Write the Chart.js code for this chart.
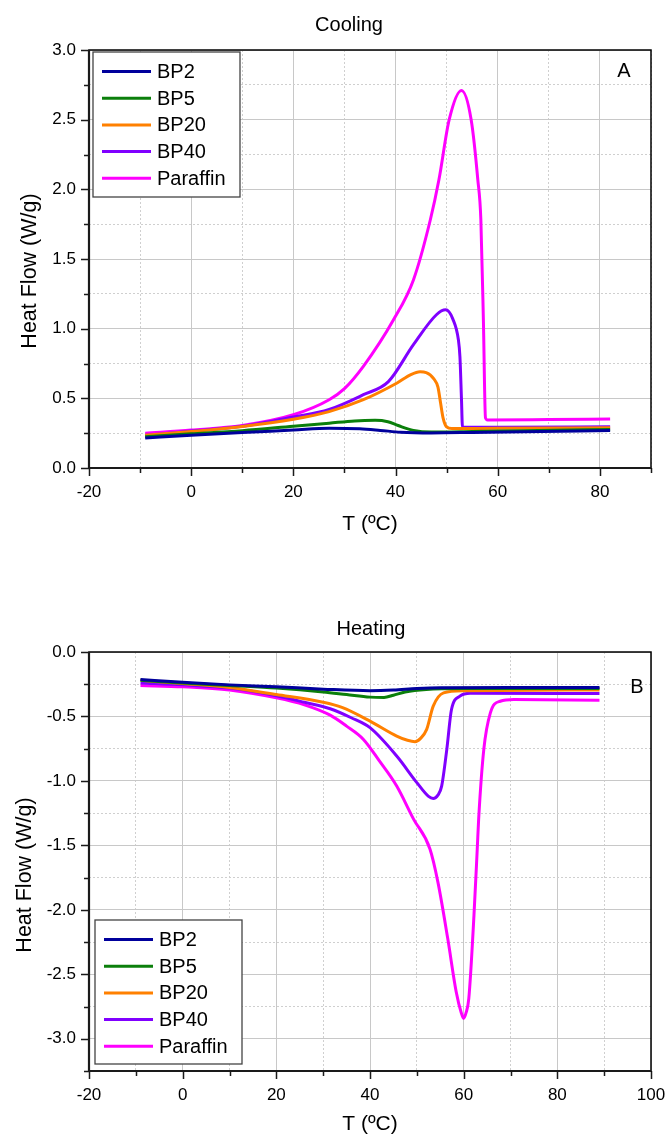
<!DOCTYPE html>
<html>
<head>
<meta charset="utf-8">
<title>DSC</title>
<script src="https://cdn.jsdelivr.net/npm/chart.js@4.4.1/dist/chart.umd.min.js"></script>
<style>
  body { margin: 0; background: #fff; }
  canvas { display: block; }
</style>
</head>
<body>
<canvas id="coolChart" width="667" height="568"></canvas>
<canvas id="heatChart" width="667" height="569"></canvas>
<script>
// 시료 이름과 선 색상
const seriesNames = ['BP2', 'BP5', 'BP20', 'BP40', 'Paraffin'];
const seriesColors = ['#00009c', '#0b7f0b', '#ff8000', '#8000ff', '#ff00ff'];

// 냉각 곡선 [T(ºC), Heat Flow(W/g)]
const coolBP2 = [[-9, 0.215], [0, 0.235], [10, 0.254], [20, 0.272], [27, 0.285], [33, 0.281], [37, 0.27], [41, 0.257], [47, 0.252], [55, 0.255], [65, 0.26], [82, 0.27]];
const coolBP5 = [[-9, 0.225], [0, 0.245], [10, 0.268], [20, 0.3], [27, 0.322], [32, 0.338], [36, 0.342], [38.5, 0.332], [40.5, 0.305], [43.5, 0.27], [47, 0.258], [55, 0.262], [65, 0.268], [82, 0.277]];
const coolBP20 = [[-9, 0.235], [0, 0.262], [10, 0.298], [20, 0.35], [27, 0.405], [33.7, 0.49], [40.3, 0.61], [43, 0.67], [44.8, 0.69], [46, 0.685], [47.5, 0.64], [48.3, 0.58], [48.8, 0.47], [49.3, 0.36], [50, 0.295], [51, 0.283], [60, 0.285], [82, 0.288]];
const coolBP40 = [[-9, 0.235], [0, 0.265], [10, 0.3], [20, 0.366], [27, 0.42], [33.7, 0.526], [38.6, 0.62], [43.5, 0.885], [48, 1.1], [49.8, 1.135], [51.2, 1.07], [52.3, 0.92], [52.6, 0.8], [52.9, 0.5], [53.1, 0.294], [60, 0.293], [82, 0.296]];
const coolParaffin = [[-9, 0.25], [0, 0.272], [10, 0.305], [20, 0.382], [27, 0.49], [30, 0.57], [33.7, 0.73], [39.6, 1.064], [43.5, 1.35], [46.8, 1.78], [48.5, 2.07], [50.5, 2.5], [52.9, 2.71], [54.8, 2.5], [56.1, 2.07], [56.7, 1.78], [57.2, 1.05], [57.6, 0.36], [58, 0.345], [70, 0.348], [82, 0.352]];

// 가열 곡선 [T(ºC), Heat Flow(W/g)]
const heatBP2 = [[-9, -0.214], [0, -0.235], [10, -0.255], [20, -0.27], [30, -0.288], [40, -0.3], [45, -0.295], [50, -0.283], [55, -0.277], [70, -0.276], [89, -0.275]];
const heatBP5 = [[-9, -0.22], [0, -0.24], [10, -0.26], [20, -0.28], [30, -0.31], [35, -0.33], [40, -0.35], [43, -0.352], [45, -0.335], [47.5, -0.31], [52, -0.29], [60, -0.283], [89, -0.283]];
const heatBP20 = [[-9, -0.22], [0, -0.245], [10, -0.275], [20, -0.33], [30, -0.39], [34, -0.43], [40, -0.536], [45.7, -0.652], [48, -0.685], [49.6, -0.696], [50.8, -0.67], [52.1, -0.6], [53.5, -0.42], [55.7, -0.317], [60, -0.3], [89, -0.295]];
const heatBP40 = [[-9, -0.24], [0, -0.255], [10, -0.28], [20, -0.34], [26, -0.39], [31.5, -0.44], [36, -0.51], [40, -0.587], [45.7, -0.807], [50, -1.013], [52.5, -1.12], [53.5, -1.136], [54.5, -1.11], [55.3, -1.04], [56.4, -0.755], [57.4, -0.446], [59.2, -0.343], [61.4, -0.32], [89, -0.322]];
const heatParaffin = [[-9, -0.26], [0, -0.27], [10, -0.295], [20, -0.356], [26, -0.41], [31.5, -0.49], [35, -0.575], [38.6, -0.678], [42, -0.845], [45.7, -1.04], [49.3, -1.296], [52.8, -1.528], [54.5, -1.785], [56.6, -2.223], [58.4, -2.635], [59.5, -2.8], [60, -2.842], [60.5, -2.8], [61.1, -2.687], [62.2, -2.043], [62.9, -1.528], [63.2, -1.296], [64.3, -0.755], [65.7, -0.472], [67.8, -0.382], [70.7, -0.369], [89, -0.374]];

// 축 범위와 라벨이 붙는 눈금
const coolXRange = [-20, 90];
const coolYRange = [0, 3];
const coolXTicks = [-20, 0, 20, 40, 60, 80];
const coolYTicks = [0, 0.5, 1.0, 1.5, 2.0, 2.5, 3.0];
const heatXRange = [-20, 100];
const heatYRange = [-3.25, 0];
const heatXTicks = [-20, 0, 20, 40, 60, 80, 100];
const heatYTicks = [-3.0, -2.5, -2.0, -1.5, -1.0, -0.5, 0];

const FONT = '"Liberation Sans", Arial, sans-serif';
Chart.defaults.font.family = FONT;
Chart.defaults.color = '#000';

// 라벨이 붙는 눈금인지 확인
function isLabeled(v, list) {
    return list.some(t => Math.abs(t - v) < 1e-6);
}

// 바깥쪽 눈금, 축선, 테두리 그리기
const frameAxes = {
    id: 'frameAxes',
    afterDraw(chart, args, opts) {
        const { ctx, chartArea: a, scales: { x, y } } = chart;
        ctx.save();
        ctx.strokeStyle = '#1a1a1a';
        ctx.lineWidth = 1.5;
        ctx.beginPath();
        x.ticks.forEach(t => {
            const px = Math.round(x.getPixelForValue(t.value)) + 0.5;
            const len = isLabeled(t.value, opts.xTicks) ? 8 : 5;
            ctx.moveTo(px, a.bottom);
            ctx.lineTo(px, a.bottom + len);
        });
        y.ticks.forEach(t => {
            const py = Math.round(y.getPixelForValue(t.value)) + 0.5;
            const len = isLabeled(t.value, opts.yTicks) ? 8 : 5;
            ctx.moveTo(a.left, py);
            ctx.lineTo(a.left - len, py);
        });
        ctx.stroke();
        // 위, 오른쪽 테두리
        ctx.strokeStyle = '#000';
        ctx.lineWidth = 1.5;
        ctx.strokeRect(a.left, a.top, a.right - a.left, a.bottom - a.top);
        // 왼쪽, 아래 축선 (조금 더 굵게)
        ctx.strokeStyle = '#1a1a1a';
        ctx.lineWidth = 2.2;
        ctx.beginPath();
        ctx.moveTo(a.left, a.top);
        ctx.lineTo(a.left, a.bottom);
        ctx.lineTo(a.right, a.bottom);
        ctx.stroke();
        ctx.restore();
    }
};

// 차트 제목, 패널 문자 (A, B), 세로축 제목
const panelText = {
    id: 'panelText',
    afterDraw(chart, args, opts) {
        const { ctx } = chart;
        ctx.save();
        ctx.fillStyle = '#000';
        ctx.textAlign = 'center';
        ctx.textBaseline = 'alphabetic';
        ctx.font = '20px ' + FONT;
        ctx.fillText(opts.title, opts.titleX, opts.titleY);
        ctx.fillText(opts.letter, opts.letterX, opts.letterY);
        // 세로축 제목은 90도 돌려서
        ctx.font = '21.5px ' + FONT;
        ctx.translate(opts.yTitleX, opts.yTitleY);
        ctx.rotate(-Math.PI / 2);
        ctx.fillText('Heat Flow (W/g)', 0, 0);
        ctx.restore();
    }
};

// 테두리가 있는 범례 상자
const boxLegend = {
    id: 'boxLegend',
    afterDraw(chart, args, opts) {
        const { ctx, chartArea: a } = chart;
        const left = a.left + opts.dx;
        const top = opts.fromBottom ? a.bottom - opts.dy - opts.h : a.top + opts.dy;
        ctx.save();
        ctx.fillStyle = '#fff';
        ctx.fillRect(left, top, opts.w, opts.h);
        ctx.strokeStyle = '#444';
        ctx.lineWidth = 1.3;
        ctx.strokeRect(left, top, opts.w, opts.h);
        ctx.font = '20px ' + FONT;
        ctx.textBaseline = 'middle';
        chart.data.datasets.forEach((ds, i) => {
            const cy = top + 19.5 + i * 26.7;
            ctx.strokeStyle = ds.borderColor;
            ctx.lineWidth = 3;
            ctx.beginPath();
            ctx.moveTo(left + 9, cy);
            ctx.lineTo(left + 58, cy);
            ctx.stroke();
            ctx.fillStyle = '#000';
            ctx.fillText(ds.label, left + 64, cy + 1);
        });
        ctx.restore();
    }
};

function toPoints(arr) {
    return arr.map(p => ({ x: p[0], y: p[1] }));
}

// 패널 하나 그리기
function renderPanel(id, series, cfg) {
    const ctx = document.getElementById(id).getContext('2d');
    const gridColor = (list) => (c) => (c.tick && isLabeled(c.tick.value, list)) ? '#c8c8c8' : '#cfcfcf';
    const gridDash = (list) => (c) => (c.tick && !isLabeled(c.tick.value, list)) ? [2, 2] : [];
    return new Chart(ctx, {
        type: 'line',
        data: {
            datasets: series.map((s, i) => ({
                label: seriesNames[i],
                data: toPoints(s),
                borderColor: seriesColors[i],
                borderWidth: 3,
                pointRadius: 0,
                fill: false,
                cubicInterpolationMode: 'monotone'
            }))
        },
        options: {
            responsive: false,
            animation: false,
            layout: { padding: { top: cfg.padTop, right: 16, left: 0, bottom: 0 } },
            plugins: {
                legend: { display: false },
                tooltip: { enabled: false },
                frameAxes: { xTicks: cfg.xTicks, yTicks: cfg.yTicks },
                panelText: cfg.text,
                boxLegend: cfg.legend
            },
            scales: {
                x: {
                    type: 'linear',
                    min: cfg.xRange[0],
                    max: cfg.xRange[1],
                    // 마지막 라벨 때문에 오른쪽 여백이 늘지 않게
                    afterFit: s => { s.height = cfg.xAxisHeight; s.paddingLeft = 0; s.paddingRight = 0; },
                    ticks: {
                        stepSize: 10,
                        autoSkip: false,
                        maxRotation: 0,
                        padding: 14,
                        font: { size: 17 },
                        callback: v => isLabeled(v, cfg.xTicks) ? String(Math.round(v)) : ''
                    },
                    grid: { drawTicks: false, color: gridColor(cfg.xTicks), lineWidth: 1 },
                    border: { display: false, dash: gridDash(cfg.xTicks) },
                    title: { display: true, text: 'T (ºC)', font: { size: 21 }, padding: { top: 0, bottom: cfg.xTitlePad } }
                },
                y: {
                    type: 'linear',
                    min: cfg.yRange[0],
                    max: cfg.yRange[1],
                    afterFit: s => { s.width = 89; s.paddingTop = 0; s.paddingBottom = 0; },
                    ticks: {
                        stepSize: 0.25,
                        autoSkip: false,
                        padding: 13,
                        font: { size: 17 },
                        callback: v => isLabeled(v, cfg.yTicks) ? v.toFixed(1) : ''
                    },
                    grid: { drawTicks: false, color: gridColor(cfg.yTicks), lineWidth: 1 },
                    border: { display: false, dash: gridDash(cfg.yTicks) }
                }
            }
        },
        plugins: [frameAxes, boxLegend, panelText]
    });
}

// 냉각 (A)
renderPanel('coolChart', [coolBP2, coolBP5, coolBP20, coolBP40, coolParaffin], {
    xRange: coolXRange, yRange: coolYRange, xTicks: coolXTicks, yTicks: coolYTicks,
    padTop: 50, xAxisHeight: 100, xTitlePad: 31,
    text: { title: 'Cooling', titleX: 349, titleY: 31, letter: 'A', letterX: 624, letterY: 77, yTitleX: 36, yTitleY: 271 },
    legend: { dx: 4, dy: 2, w: 147, h: 145, fromBottom: false }
});

// 가열 (B)
renderPanel('heatChart', [heatBP2, heatBP5, heatBP20, heatBP40, heatParaffin], {
    xRange: heatXRange, yRange: heatYRange, xTicks: heatXTicks, yTicks: heatYTicks,
    padTop: 84, xAxisHeight: 66, xTitlePad: 0,
    text: { title: 'Heating', titleX: 371, titleY: 67, letter: 'B', letterX: 637, letterY: 125, yTitleX: 30.7, yTitleY: 307 },
    legend: { dx: 6, dy: 7, w: 147, h: 144, fromBottom: true }
});
</script>
</body>
</html>
